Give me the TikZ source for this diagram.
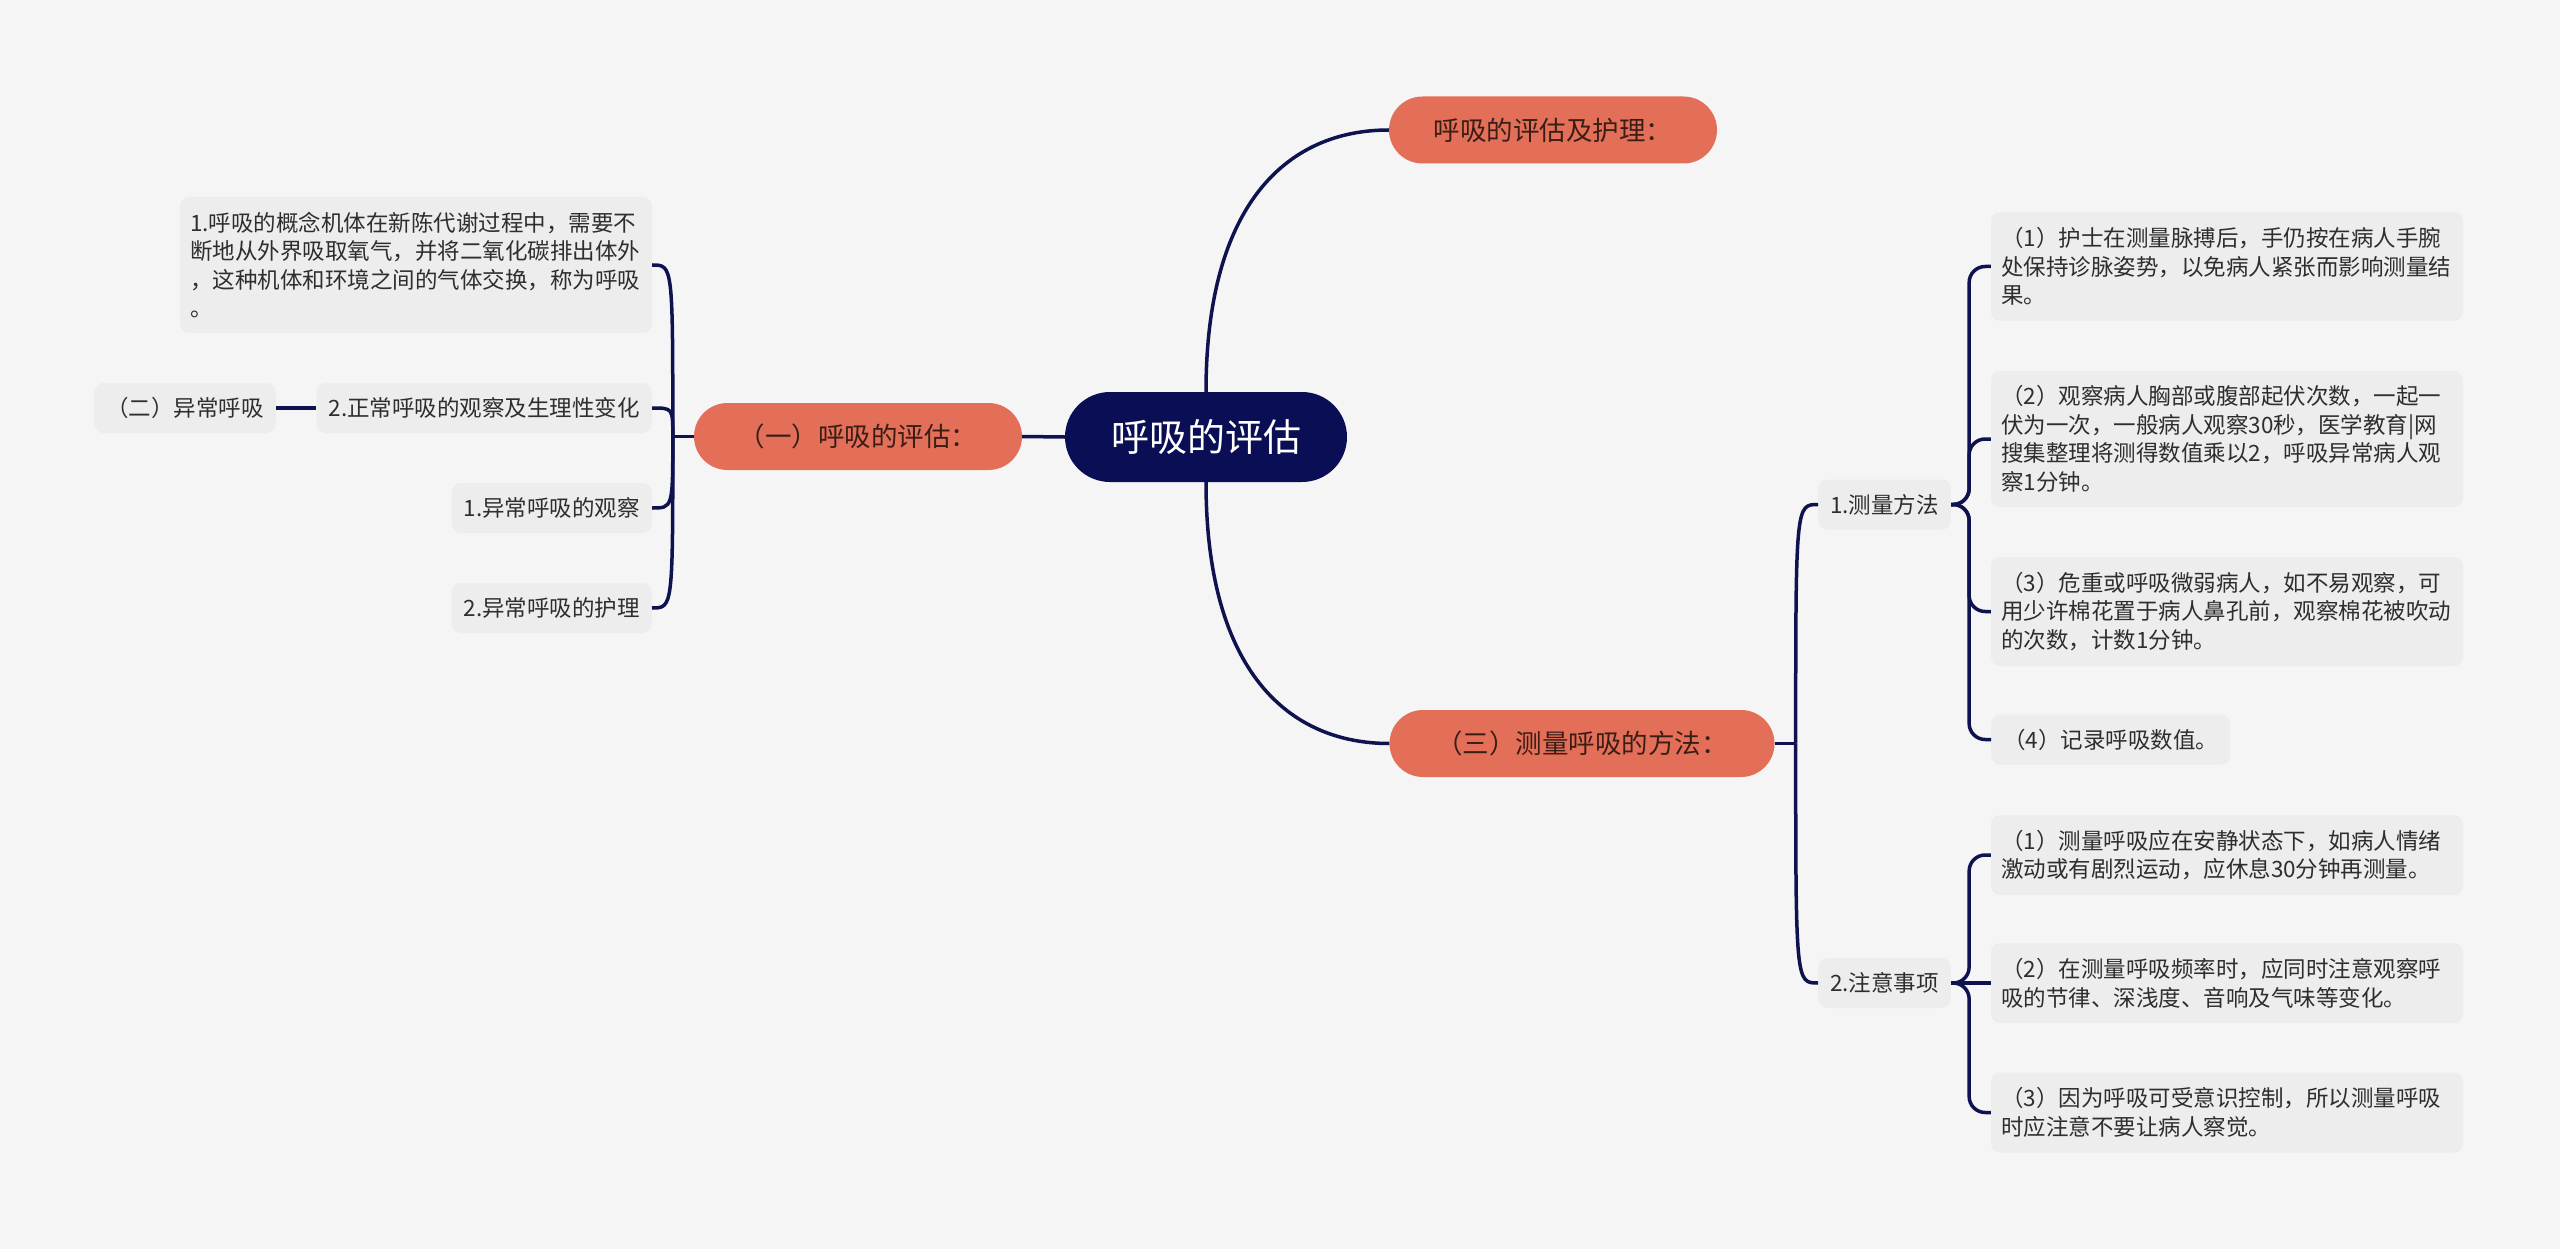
\documentclass[tikz,border=0pt]{standalone}
\usepackage{fontspec}
\setmainfont{Noto Sans CJK SC}
\definecolor{bgc}{HTML}{F5F5F5}
\definecolor{leafc}{HTML}{EDEDED}
\definecolor{txtc}{HTML}{2E2E2E}
\definecolor{orng}{HTML}{E46F59}
\definecolor{otxt}{HTML}{3A1E16}
\definecolor{navy}{HTML}{0A0E55}
\definecolor{linkc}{HTML}{0E1350}
\begin{document}
\begin{tikzpicture}[x=1pt,y=-1pt,
  leaf/.style={fill=leafc, rounded corners=9pt, inner xsep=10pt, inner ysep=0pt, text=txtc,
    font=\fontsize{22.5pt}{28.6pt}\selectfont, align=left},
  one/.style={leaf, inner xsep=12pt, minimum height=50pt},
  mainbox/.style={fill=orng, rounded corners=33.5pt, minimum height=67pt, text=otxt,
    font=\fontsize{26.5pt}{30pt}\selectfont, inner xsep=0pt},
  link/.style={draw=linkc, line width=3.5pt},
]
\fill[bgc] (0,0) rectangle (2560,1249);
\useasboundingbox (0,0) rectangle (2560,1249);

% root and main branches
\node[fill=navy, rounded corners=45pt, minimum width=282pt, minimum height=90pt, text=white,
  font=\fontsize{38pt}{40pt}\selectfont] (root) at (1206,437) {呼吸的评估};
\node[mainbox, minimum width=328pt] (A) at (1553,130) {呼吸的评估及护理：};
\node[mainbox, minimum width=385pt] (B) at (1582,743.5) {（三）测量呼吸的方法：};
\node[mainbox, minimum width=328pt] (C) at (858,436.5) {（一）呼吸的评估：};

% left leaves
\node[leaf, text width=452pt, minimum height=136pt] (L1) at (416,265)
  {1.呼吸的概念机体在新陈代谢过程中，需要不\\断地从外界吸取氧气，并将二氧化碳排出体外\\，这种机体和环境之间的气体交换，称为呼吸\\。};
\node[one, anchor=east] (L2) at (652,408) {2.正常呼吸的观察及生理性变化};
\node[one, anchor=east] (Lx) at (276,408) {（二）异常呼吸};
\node[one, anchor=east] (L3) at (652,508) {1.异常呼吸的观察};
\node[one, anchor=east] (L4) at (652,608) {2.异常呼吸的护理};

% right leaves
\node[one, anchor=west] (R1) at (1818,504.5) {1.测量方法};
\node[one, anchor=west] (R2) at (1818,983) {2.注意事项};
\node[leaf, text width=452pt, minimum height=109pt] (R1a) at (2227,266.5)
  {（1）护士在测量脉搏后，手仍按在病人手腕\\处保持诊脉姿势，以免病人紧张而影响测量结\\果。};
\node[leaf, text width=452pt, minimum height=136pt] (R1b) at (2227,439)
  {（2）观察病人胸部或腹部起伏次数，一起一\\伏为一次，一般病人观察30秒，医学教育|网\\搜集整理将测得数值乘以2，呼吸异常病人观\\察1分钟。};
\node[leaf, text width=452pt, minimum height=109pt] (R1c) at (2227,611.5)
  {（3）危重或呼吸微弱病人，如不易观察，可\\用少许棉花置于病人鼻孔前，观察棉花被吹动\\的次数，计数1分钟。};
\node[one, anchor=west] (R1d) at (1991,739.5) {（4）记录呼吸数值。};
\node[leaf, text width=452pt, minimum height=80pt] (R2a) at (2227,855)
  {（1）测量呼吸应在安静状态下，如病人情绪\\激动或有剧烈运动，应休息30分钟再测量。};
\node[leaf, text width=452pt, minimum height=80pt] (R2b) at (2227,983)
  {（2）在测量呼吸频率时，应同时注意观察呼\\吸的节律、深浅度、音响及气味等变化。};
\node[leaf, text width=452pt, minimum height=80pt] (R2c) at (2227,1112.5)
  {（3）因为呼吸可受意识控制，所以测量呼吸\\时应注意不要让病人察觉。};

% connectors from root
\draw[link] (root.west) -- (C.east);
\draw[link] (root.north) .. controls +(0,-190) and +(-100,0) .. (A.west);
\draw[link] (root.south) .. controls +(0,190) and +(-100,0) .. (B.west);

% left bracket (curved)
\coordinate (sL) at ([xshift=-21pt]C.west);
\draw[link] (C.west) -- (sL);
\foreach \n in {L1,L2,L3,L4}
  \draw[link] (sL) .. controls (sL |- \n.east) .. (\n.east);
\draw[link] (Lx.east) -- (L2.west);

% right main bracket (curved)
\coordinate (sR) at ([xshift=21pt]B.east);
\draw[link] (B.east) -- (sR);
\foreach \n in {R1,R2}
  \draw[link] (sR) .. controls (sR |- \n.west) .. (\n.west);

% R1 bracket
\coordinate (s1) at ([xshift=18pt]R1.east);
\foreach \n in {R1a,R1b,R1c,R1d}
  \draw[link, rounded corners=16pt] (R1.east) -- (s1) -- (s1 |- \n.west) -- (\n.west);

% R2 bracket
\coordinate (s2) at ([xshift=18pt]R2.east);
\foreach \n in {R2a,R2c}
  \draw[link, rounded corners=16pt] (R2.east) -- (s2) -- (s2 |- \n.west) -- (\n.west);
\draw[link] (R2.east) -- (R2b.west);
\end{tikzpicture}
\end{document}
